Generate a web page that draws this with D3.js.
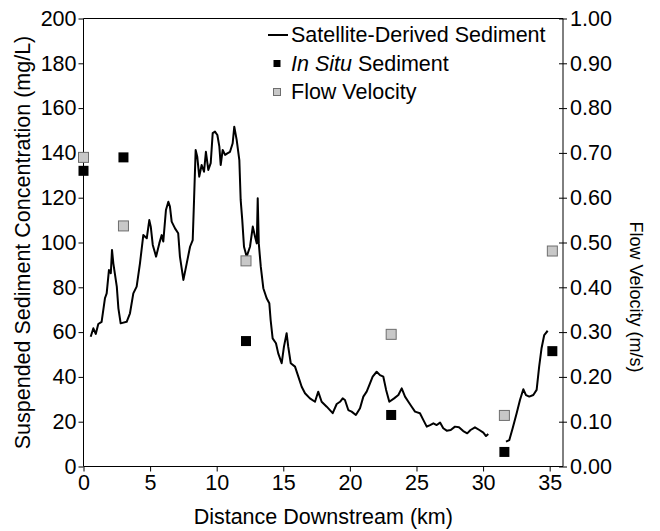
<!DOCTYPE html>
<html>
<head>
<meta charset="utf-8">
<script src="https://cdn.jsdelivr.net/npm/d3@7"></script>
<style>
  html, body { margin: 0; padding: 0; background: #fff; }
  svg { display: block; font-family: "Liberation Sans", Arial, sans-serif; }
</style>
</head>
<body>
<svg id="chart" width="660" height="531"></svg>
<script>
// ---- Data ----
const xTicks = [0, 5, 10, 15, 20, 25, 30, 35];
const ySedTicks = [0, 20, 40, 60, 80, 100, 120, 140, 160, 180, 200];
const yVelTicks = [0, 0.1, 0.2, 0.3, 0.4, 0.5, 0.6, 0.7, 0.8, 0.9, 1.0];

// Satellite-derived sediment (km, mg/L); null marks the data gap
const satKm = [0.54,0.74,0.92,1.11,1.36,1.61,1.74,1.91,2.05,2.14,2.24,2.50,2.62,2.79,3.24,3.49,3.74,3.99,4.24,4.49,4.75,4.94,5.05,5.20,5.45,5.69,5.87,5.99,6.19,6.37,6.49,6.62,6.87,7.11,7.24,7.50,7.75,8.00,8.20,8.30,8.42,8.54,8.69,8.87,9.05,9.19,9.37,9.55,9.70,9.87,10.05,10.20,10.30,10.45,10.63,10.80,11.00,11.20,11.32,11.50,11.70,11.80,11.92,12.05,12.25,12.50,12.71,12.88,13.01,13.08,13.16,13.31,13.50,13.75,13.95,14.05,14.20,14.45,14.62,14.88,15.05,15.25,15.37,15.56,15.88,16.13,16.38,16.63,17.00,17.38,17.62,17.88,18.26,18.71,19.01,19.26,19.46,19.63,19.88,20.13,20.45,20.76,21.01,21.26,21.51,21.71,22.01,22.26,22.51,22.72,22.96,23.32,23.64,23.89,24.14,24.39,24.64,24.89,25.26,25.51,25.77,26.02,26.27,26.52,26.77,27.01,27.27,27.57,27.89,28.19,28.51,28.81,29.06,29.39,29.72,30.02,30.22,30.39,
  31.0,
  31.72,31.97,32.22,32.52,32.77,33.02,33.22,33.47,33.77,34.02,34.21,34.39,34.59,34.85];
const satSSC = [57.9,61.7,59.2,63.6,64.6,75.1,77.3,87.7,86.3,96.7,90.7,80.3,70.6,63.9,64.6,68.4,77.3,80.3,90.7,103.3,101.9,110.0,107.1,98.9,93.7,99.6,103.3,100.4,114.5,118.2,116.0,109.3,106.3,104.1,93.7,83.3,90.7,98.1,101.1,119.0,141.3,138.3,129.4,134.6,131.6,140.5,132.4,135.4,148.8,149.5,148.0,142.8,134.6,141.3,139.1,139.8,140.5,144.3,151.7,145.8,136.8,119.0,110.0,98.1,93.7,98.1,107.1,102.6,99.6,119.7,99.6,89.2,79.6,75.1,72.9,65.4,57.2,55.0,50.5,46.1,53.5,59.5,53.5,46.1,44.6,40.1,35.6,32.7,30.4,28.9,33.4,28.9,26.7,23.8,27.9,28.9,30.4,29.7,25.2,24.5,23.0,26.0,31.2,33.4,37.1,40.1,42.3,40.8,40.1,34.2,28.9,30.4,31.9,34.9,31.2,28.9,26.7,24.5,23.8,20.8,17.8,18.5,19.3,18.5,19.6,17.1,16.0,16.3,17.8,17.5,15.8,14.8,16.3,17.5,16.3,15.1,13.6,14.5,
  null,
  11.1,11.8,17.1,23.8,29.7,34.5,31.9,31.2,31.9,34.2,44.6,52.8,58.7,60.6];

// In situ sediment samples (km, mg/L)
const inSituKm = [0, 3.0, 12.2, 23.1, 31.6, 35.2];
const inSituSSC = [132, 138, 56, 23, 6.5, 51.5];

// Flow velocity samples (km, m/s)
const flowKm = [0, 3.0, 12.2, 23.1, 31.6, 35.2];
const flowVel = [0.69, 0.537, 0.459, 0.295, 0.114, 0.481];

// ---- Layout ----
const svg = d3.select("#chart");
const mLeft = 83.5, mRight = 563, mTop = 18.5, mBottom = 466.5;

const x = d3.scaleLinear().domain([0, 36]).range([mLeft, mRight]);
const yL = d3.scaleLinear().domain([0, 200]).range([mBottom, mTop]);
const yR = d3.scaleLinear().domain([0, 1]).range([mBottom, mTop]);

const fontSize = 21.5;

// Frame (top border)
svg.append("line")
  .attr("x1", mLeft).attr("x2", mRight).attr("y1", mTop).attr("y2", mTop)
  .attr("stroke", "#000").attr("stroke-width", 1);

// Left axis
const gL = svg.append("g").attr("transform", `translate(${mLeft},0)`)
  .call(d3.axisLeft(yL).tickValues(ySedTicks).tickSize(5).tickPadding(2).tickFormat(d3.format("d")));
// Right axis
const gR = svg.append("g").attr("transform", `translate(${mRight},0)`)
  .call(d3.axisRight(yR).tickValues(yVelTicks).tickSize(4).tickPadding(3).tickFormat(d3.format(".2f")));
gR.selectAll(".tick line").attr("x1", -4);
// Bottom axis
const gB = svg.append("g").attr("transform", `translate(0,${mBottom})`)
  .call(d3.axisBottom(x).tickValues(xTicks).tickSize(5).tickPadding(3).tickFormat(d3.format("d")));

[gL, gR, gB].forEach(g => {
  g.select(".domain").attr("stroke", "#000").attr("stroke-width", 1);
  g.selectAll(".tick line").attr("stroke", "#000");
  g.selectAll(".tick text").attr("font-size", fontSize)
    .attr("font-family", "Liberation Sans, Arial, sans-serif").attr("fill", "#000");
});
gB.select(".domain").attr("d", `M${mLeft},0H${mRight}`);
gL.select(".domain").attr("d", `M0,${mTop}V${mBottom}`);
gR.select(".domain").attr("d", `M0,${mTop}V${mBottom}`);

// Axis titles
svg.append("text")
  .attr("transform", `translate(23,${(mTop + mBottom) / 2}) rotate(-90)`)
  .attr("text-anchor", "middle").attr("dominant-baseline", "central")
  .attr("font-size", fontSize).text("Suspended Sediment Concentration (mg/L)");
svg.append("text")
  .attr("transform", `translate(636,297) rotate(90)`)
  .attr("text-anchor", "middle").attr("dominant-baseline", "central")
  .attr("font-size", 18).text("Flow Velocity (m/s)");
svg.append("text")
  .attr("x", (mLeft + mRight) / 2).attr("y", 517)
  .attr("text-anchor", "middle").attr("dominant-baseline", "central")
  .attr("font-size", fontSize).text("Distance Downstream (km)");

// Satellite line
const satData = satKm.map((k, i) => ({ k, v: satSSC[i] }));
const line = d3.line().defined(d => d.v != null).x(d => x(d.k)).y(d => yL(d.v));
svg.append("path").datum(satData)
  .attr("fill", "none").attr("stroke", "#000").attr("stroke-width", 2)
  .attr("stroke-linejoin", "round").attr("d", line);

// Flow velocity markers
const ms = 10;
svg.append("g").selectAll("rect").data(flowKm.map((k, i) => ({ k, v: flowVel[i] })))
  .join("rect")
  .attr("x", d => x(d.k) - ms / 2).attr("y", d => yR(d.v) - ms / 2)
  .attr("width", ms).attr("height", ms)
  .attr("fill", "#c8c8c8").attr("stroke", "#6e6e6e").attr("stroke-width", 1);

// In situ markers
svg.append("g").selectAll("rect").data(inSituKm.map((k, i) => ({ k, v: inSituSSC[i] })))
  .join("rect")
  .attr("x", d => x(d.k) - ms / 2).attr("y", d => yL(d.v) - ms / 2)
  .attr("width", ms).attr("height", ms)
  .attr("fill", "#000");

// Legend
const lg = svg.append("g");
lg.append("line").attr("x1", 268).attr("x2", 288).attr("y1", 35).attr("y2", 35)
  .attr("stroke", "#000").attr("stroke-width", 2);
lg.append("text").attr("x", 291).attr("y", 35).attr("dominant-baseline", "central")
  .attr("font-size", fontSize).text("Satellite-Derived Sediment");
lg.append("rect").attr("x", 273.5).attr("y", 60).attr("width", 7).attr("height", 7).attr("fill", "#000");
const t2 = lg.append("text").attr("x", 291).attr("y", 63.5).attr("dominant-baseline", "central")
  .attr("font-size", fontSize);
t2.append("tspan").attr("font-style", "italic").text("In Situ");
t2.append("tspan").text(" Sediment");
lg.append("rect").attr("x", 273.5).attr("y", 88.5).attr("width", 7).attr("height", 7)
  .attr("fill", "#c8c8c8").attr("stroke", "#6e6e6e").attr("stroke-width", 1);
lg.append("text").attr("x", 291).attr("y", 92).attr("dominant-baseline", "central")
  .attr("font-size", fontSize).text("Flow Velocity");
</script>
</body>
</html>
